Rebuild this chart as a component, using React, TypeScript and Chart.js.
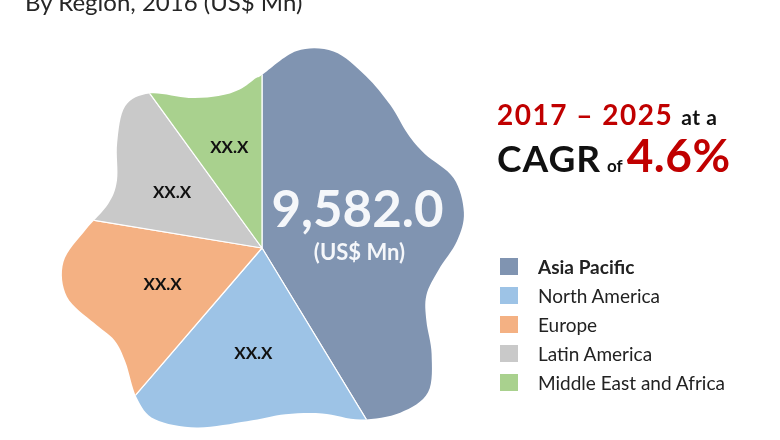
import React, { useEffect, useRef } from "react";
import { Chart, registerables } from "chart.js";

Chart.register(...registerables);

// ---- data ----
const regions = ["Asia Pacific", "North America", "Europe", "Latin America", "Middle East and Africa"];
const shares = [41.3, 20.0, 16.3, 12.4, 10.0];
const sliceLabels = ["9,582.0", "XX.X", "XX.X", "XX.X", "XX.X"];
const totalUnit = "(US$ Mn)";
const colors = ["#8094B1", "#9DC3E6", "#F4B183", "#C9C9C9", "#A9D18E"];
const titleText = "By Region, 2016 (US$ Mn)";
const periodText = "2017 – 2025";
const cagrText = "4.6%";

// blob outline (angle clockwise from top in degrees, radius relative to a 225px pie)
const blobAngles = [0, 10, 20, 31, 42, 52, 60, 70, 80, 88, 97, 106, 114, 122, 131, 140, 150, 160, 172, 185, 200, 212, 220, 230, 238, 246, 256, 266, 276, 286, 295, 306, 316, 324, 334, 344, 352, 358];
const blobRadii = [173, 200, 209, 201, 192, 185, 188, 204, 205, 195, 178, 171, 180, 200, 220, 215, 198, 176, 168, 174, 191, 202, 195, 178, 174, 184, 201, 199, 177, 160, 160, 179, 197, 191, 167, 158, 160, 170];

const PIE_R = 225;

const blobPlugin = {
  id: "blobPlugin",
  beforeDatasetsDraw(chart: any) {
    const ctx = chart.ctx;
    const arc = chart.getDatasetMeta(0).data[0];
    const { x, y, outerRadius } = arc.getProps(["x", "y", "outerRadius"], true);
    const s = outerRadius / PIE_R;
    const pts = blobAngles.map((a, i) => {
      const t = (a * Math.PI) / 180;
      return [x + blobRadii[i] * s * Math.sin(t), y - blobRadii[i] * s * Math.cos(t)];
    });
    const n = pts.length;
    ctx.save();
    ctx.beginPath();
    ctx.moveTo(pts[0][0], pts[0][1]);
    for (let i = 0; i < n; i++) {
      const p0 = pts[(i - 1 + n) % n];
      const p1 = pts[i];
      const p2 = pts[(i + 1) % n];
      const p3 = pts[(i + 2) % n];
      const c1x = p1[0] + (p2[0] - p0[0]) / 6;
      const c1y = p1[1] + (p2[1] - p0[1]) / 6;
      const c2x = p2[0] - (p3[0] - p1[0]) / 6;
      const c2y = p2[1] - (p3[1] - p1[1]) / 6;
      ctx.bezierCurveTo(c1x, c1y, c2x, c2y, p2[0], p2[1]);
    }
    ctx.closePath();
    ctx.clip();
  },
  afterDatasetsDraw(chart: any) {
    const ctx = chart.ctx;
    ctx.restore();
    const meta = chart.getDatasetMeta(0);
    meta.data.forEach((arc: any, i: number) => {
      const { x, y, startAngle, endAngle, outerRadius } = arc.getProps(
        ["x", "y", "startAngle", "endAngle", "outerRadius"],
        true
      );
      const mid = (startAngle + endAngle) / 2;
      const r = outerRadius * (i === 0 ? 0.45 : 0.47);
      const lx = x + Math.cos(mid) * r;
      const ly = y + Math.sin(mid) * r;
      ctx.save();
      ctx.textAlign = "center";
      ctx.textBaseline = "alphabetic";
      if (i === 0) {
        ctx.fillStyle = "#F5F7FA";
        ctx.font = "bold 51px Lato";
        ctx.fillText(sliceLabels[i], lx - 2, ly + 6);
        ctx.font = "bold 22px Lato";
        ctx.fillText(totalUnit, lx, ly + 39);
      } else {
        ctx.fillStyle = "#111111";
        ctx.font = "bold 17px Lato";
        ctx.textBaseline = "middle";
        ctx.fillText(sliceLabels[i], lx, ly);
      }
      ctx.restore();
    });
  },
};

export default function App() {
  const canvasRef = useRef<HTMLCanvasElement | null>(null);

  useEffect(() => {
    if (!canvasRef.current) return;
    const chart = new Chart(canvasRef.current, {
      type: "pie",
      data: {
        labels: regions,
        datasets: [
          {
            data: shares,
            backgroundColor: colors,
            borderColor: "#FFFFFF",
            borderWidth: 1.2,
            radius: PIE_R,
          } as any,
        ],
      },
      options: {
        responsive: false,
        maintainAspectRatio: false,
        animation: false,
        devicePixelRatio: 1,
        events: [],
        layout: { padding: { left: 0, right: 256, top: 56, bottom: 0 } },
        plugins: {
          legend: { display: false },
          tooltip: { enabled: false },
          title: { display: false },
        },
      },
      plugins: [blobPlugin],
    });
    return () => chart.destroy();
  }, []);

  const legendTops = [266, 295, 324, 353, 382];

  return (
    <div
      style={{
        position: "fixed",
        left: 0,
        top: 0,
        width: 780,
        height: 440,
        background: "#FFFFFF",
        overflow: "hidden",
        fontFamily: "Lato, 'Open Sans', sans-serif",
      }}
    >
      <canvas ref={canvasRef} width={780} height={440} style={{ position: "absolute", left: 0, top: 0, width: 780, height: 440 }} />
      <div style={{ position: "absolute", left: 25, top: -10, fontSize: 24, lineHeight: 1, color: "#262626", whiteSpace: "nowrap" }}>
        {titleText}
      </div>
      <div style={{ position: "absolute", left: 497, top: 100, fontSize: 28, lineHeight: 1, fontWeight: 700, whiteSpace: "nowrap" }}>
        <span style={{ color: "#C00000", letterSpacing: 1.5 }}>{periodText}</span>
        <span style={{ color: "#111111", fontSize: 21, marginLeft: 8, letterSpacing: 0.5 }}>at a</span>
      </div>
      <div style={{ position: "absolute", left: 497, top: 132, fontSize: 46, lineHeight: 1, fontWeight: 700, whiteSpace: "nowrap" }}>
        <span style={{ color: "#111111", fontSize: 37, letterSpacing: 1 }}>CAGR</span>
        <span style={{ color: "#111111", fontSize: 17, marginLeft: 6 }}>of</span>
        <span style={{ color: "#C00000", marginLeft: 4, letterSpacing: 0.5 }}>{cagrText}</span>
      </div>
      {regions.map((r, i) => (
        <div key={r} style={{ position: "absolute", left: 500, top: legendTops[i] - 9, height: 18, display: "flex", alignItems: "center", whiteSpace: "nowrap" }}>
          <div style={{ width: 18, height: 17, background: colors[i] }} />
          <div style={{ marginLeft: 20, fontSize: 19, color: "#222222", fontWeight: i === 0 ? 700 : 400, lineHeight: 1 }}>{r}</div>
        </div>
      ))}
    </div>
  );
}
